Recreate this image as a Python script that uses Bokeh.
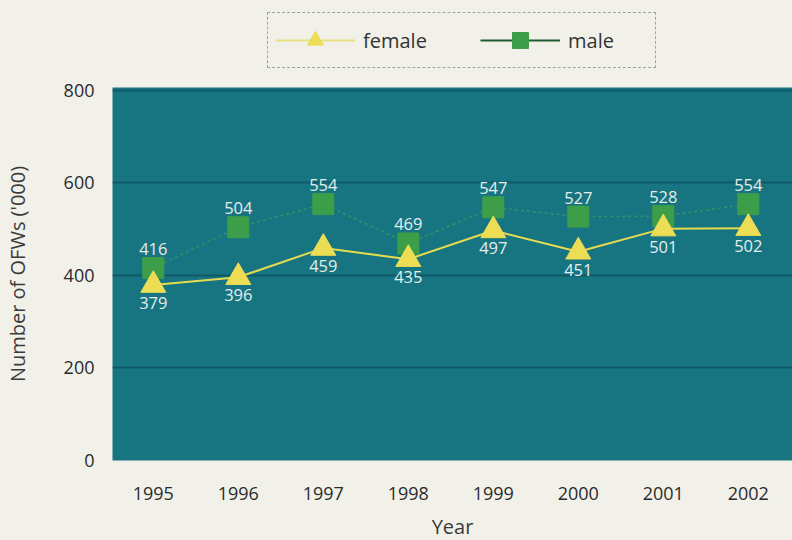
from bokeh.plotting import figure
from bokeh.layouts import column
from bokeh.models import ColumnDataSource, FixedTicker, Legend, LegendItem, Range1d, LabelSet
from bokeh.embed import file_html
from bokeh.resources import INLINE
from bokeh.core.properties import value

years = [1995, 1996, 1997, 1998, 1999, 2000, 2001, 2002]
female = [379, 396, 459, 435, 497, 451, 501, 502]
male = [416, 504, 554, 469, 547, 527, 528, 554]
y_ticks = [0, 200, 400, 600, 800]

FONT = "Open Sans"
BG = "#f1f1ea"
F_COL = "#ecdd55"
F_LINE = "#e6da4e"
M_COL = "#3c9e48"
M_LINE = "#3aa25a"

p = figure(frame_width=680, frame_height=373, output_backend="svg", toolbar_location=None,
           x_range=Range1d(1994.52, 2002.52), y_range=Range1d(0, 806),
           min_border_left=112, min_border_right=0, min_border_top=10, min_border_bottom=0)
p.background_fill_color = "#177582"
p.border_fill_color = BG
p.outline_line_color = None

src = ColumnDataSource(dict(x=years, f=female, m=male,
                            fl=[str(v) for v in female], ml=[str(v) for v in male]))

p.line("x", "m", source=src, line_color=M_LINE, line_width=1.5, line_dash="3 3", line_alpha=0.7)
p.scatter("x", "m", source=src, marker="square", size=21, fill_color=M_COL, line_color=M_COL)
p.line("x", "f", source=src, line_color=F_LINE, line_width=2)
p.scatter("x", "f", source=src, marker="triangle", size=25, fill_color=F_COL, line_color=F_COL)

p.add_layout(LabelSet(x="x", y="m", text="ml", source=src, text_align="center",
                      text_baseline="bottom", y_offset=13, text_color="#e4eeea",
                      text_font_size="16.5px", text_font=value(FONT)))
p.add_layout(LabelSet(x="x", y="f", text="fl", source=src, text_align="center",
                      text_baseline="top", y_offset=-12, text_color="#e4eeea",
                      text_font_size="16.5px", text_font=value(FONT)))

p.xaxis.ticker = FixedTicker(ticks=years)
p.yaxis.ticker = FixedTicker(ticks=y_ticks)
for ax in (p.xaxis, p.yaxis):
    ax.axis_line_color = None
    ax.major_tick_line_color = None
    ax.minor_tick_line_color = None
    ax.major_label_text_font = FONT
    ax.major_label_text_font_size = "18px"
    ax.major_label_text_color = "#2a2a2a"
    ax.axis_label_text_font = FONT
    ax.axis_label_text_font_style = "normal"
    ax.axis_label_text_color = "#3a3a3a"
p.xaxis.major_label_standoff = 20
p.yaxis.major_label_standoff = 12
p.xaxis.axis_label = "Year"
p.xaxis.axis_label_text_font_size = "20px"
p.xaxis.axis_label_standoff = 10
p.yaxis.axis_label = "Number of OFWs ('000)"
p.yaxis.axis_label_text_font_size = "20px"
p.yaxis.axis_label_standoff = 30

p.xgrid.grid_line_color = None
p.ygrid.grid_line_color = "#0f5462"
p.ygrid.grid_line_width = 2
p.ygrid.grid_line_alpha = 0.8

# legend strip above the chart
top = figure(width=792, height=77, output_backend="svg", toolbar_location=None,
             min_border_left=112, min_border_right=0, min_border_top=0, min_border_bottom=0,
             x_range=Range1d(0, 1), y_range=Range1d(0, 1))
top.axis.visible = False
top.grid.visible = False
top.outline_line_color = None
top.background_fill_color = BG
top.border_fill_color = BG
nan = float("nan")
lf = top.line(x=[nan], y=[nan], line_color=F_LINE, line_width=2, line_alpha=0.7)
lfs = top.scatter(x=[nan], y=[nan], marker="triangle", fill_color=F_COL, line_color=F_COL)
lm = top.line(x=[nan], y=[nan], line_color="#1f5a30", line_width=2)
lms = top.scatter(x=[nan], y=[nan], marker="square", fill_color=M_COL, line_color=M_COL)

legend = Legend(items=[LegendItem(label="female", renderers=[lf, lfs]),
                       LegendItem(label="male", renderers=[lm, lms])],
                orientation="horizontal", location=(155, 9),
                border_line_color="#555555", border_line_dash="2 2", border_line_width=1,
                background_fill_color=BG, background_fill_alpha=1,
                label_text_font=FONT, label_text_font_size="20px", label_text_color="#333333",
                glyph_width=80, glyph_height=40, spacing=37, padding=7, margin=0,
                label_standoff=8)
legend.label_width = 80
top.add_layout(legend, "center")

layout = column(top, p, spacing=0)
layout.styles = {"background-color": BG}
open("out.html", "w").write(file_html(layout, INLINE))
